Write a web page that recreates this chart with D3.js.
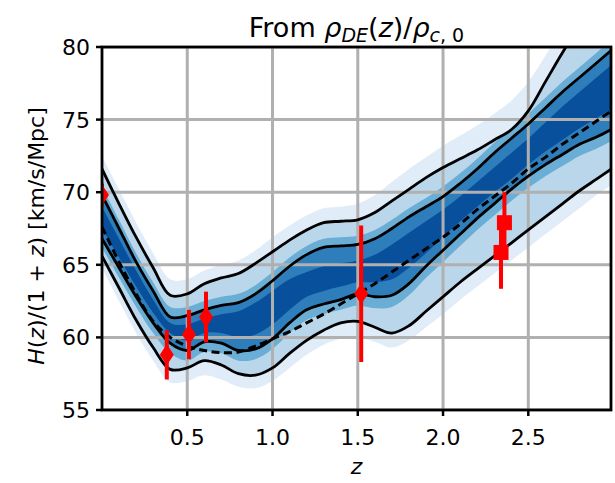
<!DOCTYPE html>
<html>
<head>
<meta charset="utf-8">
<script src="https://cdn.jsdelivr.net/npm/d3@7"></script>
<style>
  body { margin: 0; background: #fff; }
  text { font-family: "DejaVu Sans", sans-serif; fill: #000; }
</style>
</head>
<body>
<div id="chart"></div>
<script>
// redshift grid the bands are read on
const zGrid = [0, 0.1, 0.2, 0.3, 0.4, 0.5, 0.6, 0.7, 0.8, 0.9, 1.0, 1.1, 1.2, 1.3, 1.4, 1.5,
               1.6, 1.7, 1.8, 1.9, 2.0, 2.1, 2.2, 2.3, 2.4, 2.5, 2.6, 2.7, 2.8, 2.9, 3.0];

// filled density bands (outer to inner)
const outerHi = [72.5, 70.2, 67.9, 65.8, 64.0, 64.0, 64.6, 65.0, 65.3, 66.0, 66.9, 67.7, 68.4, 68.9, 69.0, 69.2,
                 69.8, 70.7, 71.6, 72.4, 73.2, 73.9, 74.6, 75.4, 76.3, 77.6, 79.4, 81.2, 83.0, 84.6, 86.0];
const outerLo = [64.8, 62.5, 60.3, 58.4, 56.9, 57.0, 57.4, 57.1, 56.6, 56.5, 57.0, 57.9, 58.8, 59.5, 59.9, 60.0,
                 59.7, 59.3, 59.8, 60.7, 61.6, 62.6, 63.5, 64.4, 65.3, 66.2, 67.1, 68.0, 68.9, 69.8, 70.6];
const midHi = [70.4, 68.1, 65.8, 63.8, 62.1, 62.1, 62.5, 62.8, 63.0, 63.6, 64.5, 65.5, 66.3, 66.8, 66.9, 67.0,
               67.4, 68.1, 68.9, 69.6, 70.4, 71.3, 72.3, 73.4, 74.4, 75.4, 76.5, 77.6, 78.6, 79.6, 80.6];
const midLo = [66.2, 64.1, 62.1, 60.3, 58.9, 58.4, 59.0, 58.9, 58.4, 58.5, 59.2, 60.3, 61.2, 61.6, 61.9, 62.2,
               62.0, 62.1, 62.9, 64.1, 65.2, 66.3, 67.4, 68.4, 69.4, 70.3, 71.1, 71.8, 72.5, 73.0, 73.6];
const coreHi = [69.0, 66.8, 64.6, 62.6, 61.0, 60.9, 61.3, 61.6, 61.8, 62.4, 63.2, 64.0, 64.5, 64.9, 65.1, 65.3,
                65.7, 66.4, 67.2, 68.0, 68.8, 69.7, 70.7, 71.7, 72.7, 73.7, 74.8, 75.9, 76.9, 77.9, 78.9];
const coreLo = [67.5, 65.5, 63.5, 61.7, 60.3, 59.8, 60.3, 60.3, 60.0, 60.2, 60.9, 61.9, 62.8, 63.2, 63.5, 63.8,
                63.8, 64.0, 64.8, 65.8, 66.9, 68.0, 69.0, 70.0, 70.9, 71.9, 72.8, 73.6, 74.4, 75.1, 75.8];

// black contour lines
const hi95 = [71.6, 69.2, 66.9, 64.8, 62.9, 63.0, 63.7, 64.1, 64.4, 65.1, 65.9, 66.7, 67.4, 67.9, 68.0, 68.1,
              68.6, 69.4, 70.2, 71.0, 71.7, 72.3, 72.9, 73.6, 74.3, 75.6, 77.6, 79.6, 81.5, 83.3, 85.0];
const hi68 = [69.8, 67.5, 65.2, 63.2, 61.4, 61.5, 61.9, 62.2, 62.4, 63.0, 63.9, 64.9, 65.7, 66.2, 66.3, 66.4,
              66.8, 67.5, 68.3, 69.0, 69.7, 70.6, 71.6, 72.7, 73.7, 74.7, 75.8, 76.9, 77.9, 78.9, 79.9];
const lo68 = [66.8, 64.8, 62.8, 61.0, 59.6, 59.1, 59.7, 59.6, 59.1, 59.2, 59.9, 61.0, 61.9, 62.3, 62.6, 63.0,
              62.8, 62.9, 63.7, 64.9, 66.0, 67.1, 68.2, 69.2, 70.2, 71.1, 71.9, 72.6, 73.3, 73.8, 74.4];
const lo95 = [65.6, 63.4, 61.2, 59.3, 57.8, 57.9, 58.4, 58.1, 57.5, 57.4, 57.9, 58.9, 59.8, 60.5, 61.0, 61.1,
              60.7, 60.3, 60.8, 61.8, 62.8, 63.8, 64.7, 65.6, 66.5, 67.4, 68.3, 69.2, 70.1, 70.9, 71.7];

// dashed reference model
const lcdm = [67.6, 65.2, 63.0, 61.1, 60.0, 59.4, 59.1, 58.95, 59.0, 59.4, 59.9, 60.4, 61.0, 61.6, 62.3, 63.0,
              63.7, 64.5, 65.3, 66.1, 66.9, 67.8, 68.8, 69.7, 70.6, 71.6, 72.4, 73.3, 74.1, 74.9, 75.7];

// measurements
const diamondZ = [0.0, 0.38, 0.51, 0.61, 1.52];
const diamondH = [69.8, 58.8, 60.2, 61.4, 63.0];
const diamondErr = [0.8, 1.7, 1.7, 1.75, 4.7];
const squareZ = [2.36, 2.34];
const squareH = [67.9, 65.85];
const squareErr = [2.1, 2.5];

const xTicks = [0.5, 1.0, 1.5, 2.0, 2.5];
const yTicks = [55, 60, 65, 70, 75, 80];

const bandColors = ["#e0ecf8", "#bad6eb", "#6aaed6", "#2e7ebc", "#08509b"];

const width = 615, height = 483;
const plot = { left: 102, right: 611, top: 47, bottom: 410 };

const svg = d3.select("#chart").append("svg")
    .attr("width", width)
    .attr("height", height);

const x = d3.scaleLinear().domain([0, 2.985]).range([plot.left, plot.right]);
const y = d3.scaleLinear().domain([55, 80]).range([plot.bottom, plot.top]);

svg.append("clipPath").attr("id", "clip")
    .append("rect")
    .attr("x", plot.left).attr("y", plot.top)
    .attr("width", plot.right - plot.left).attr("height", plot.bottom - plot.top);

const g = svg.append("g").attr("clip-path", "url(#clip)");

const curve = d3.curveCatmullRom.alpha(0.5);

function band(lo, hi) {
    return d3.area()
        .x((d, i) => x(zGrid[i]))
        .y0((d, i) => y(lo[i]))
        .y1((d, i) => y(hi[i]))
        .curve(curve)(zGrid);
}

function line(vals) {
    return d3.line()
        .x((d, i) => x(zGrid[i]))
        .y((d, i) => y(vals[i]))
        .curve(curve)(zGrid);
}

// fills
const bands = [[outerLo, outerHi], [lo95, hi95], [midLo, midHi], [lo68, hi68], [coreLo, coreHi]];
bands.forEach((b, i) => {
    g.append("path").attr("d", band(b[0], b[1])).attr("fill", bandColors[i]);
});

// grid (above fills, below lines)
const grid = g.append("g").attr("stroke", "#b0b0b0").attr("stroke-width", 3);
xTicks.forEach(t => {
    grid.append("line").attr("x1", x(t)).attr("x2", x(t)).attr("y1", plot.top).attr("y2", plot.bottom);
});
yTicks.forEach(t => {
    grid.append("line").attr("x1", plot.left).attr("x2", plot.right).attr("y1", y(t)).attr("y2", y(t));
});

// contour lines
[hi95, hi68, lo68, lo95].forEach(vals => {
    g.append("path").attr("d", line(vals))
        .attr("fill", "none").attr("stroke", "#000").attr("stroke-width", 2.8);
});
g.append("path").attr("d", line(lcdm))
    .attr("fill", "none").attr("stroke", "#000").attr("stroke-width", 3)
    .attr("stroke-dasharray", "8,4.5");

// error bars
const pts = g.append("g");
diamondZ.forEach((z, i) => {
    pts.append("line")
        .attr("x1", x(z)).attr("x2", x(z))
        .attr("y1", y(diamondH[i] - diamondErr[i])).attr("y2", y(diamondH[i] + diamondErr[i]))
        .attr("stroke", "#ff0000").attr("stroke-width", 4);
});
squareZ.forEach((z, i) => {
    pts.append("line")
        .attr("x1", x(z)).attr("x2", x(z))
        .attr("y1", y(squareH[i] - squareErr[i])).attr("y2", y(squareH[i] + squareErr[i]))
        .attr("stroke", "#ff0000").attr("stroke-width", 4);
});
diamondZ.forEach((z, i) => {
    const cx = x(z), cy = y(diamondH[i]);
    pts.append("path")
        .attr("d", `M${cx},${cy - 10.5}L${cx + 7},${cy}L${cx},${cy + 10.5}L${cx - 7},${cy}Z`)
        .attr("fill", "#ff0000");
});
squareZ.forEach((z, i) => {
    pts.append("rect")
        .attr("x", x(z) - 7.5).attr("y", y(squareH[i]) - 7.5)
        .attr("width", 15).attr("height", 15)
        .attr("fill", "#ff0000");
});

// axes frame
svg.append("rect")
    .attr("x", plot.left).attr("y", plot.top)
    .attr("width", plot.right - plot.left).attr("height", plot.bottom - plot.top)
    .attr("fill", "none").attr("stroke", "#000").attr("stroke-width", 2.8);

// ticks
xTicks.forEach(t => {
    svg.append("line").attr("x1", x(t)).attr("x2", x(t))
        .attr("y1", plot.bottom).attr("y2", plot.bottom + 6)
        .attr("stroke", "#000").attr("stroke-width", 2.5);
    svg.append("text").attr("x", x(t)).attr("y", 445)
        .attr("text-anchor", "middle").attr("font-size", 22)
        .text(d3.format(".1f")(t));
});
yTicks.forEach(t => {
    svg.append("line").attr("x1", plot.left - 6).attr("x2", plot.left)
        .attr("y1", y(t)).attr("y2", y(t))
        .attr("stroke", "#000").attr("stroke-width", 2.5);
    svg.append("text").attr("x", plot.left - 12).attr("y", y(t))
        .attr("dy", "0.36em")
        .attr("text-anchor", "end").attr("font-size", 22)
        .text(t);
});

// x label
svg.append("text").attr("x", (plot.left + plot.right) / 2).attr("y", 474)
    .attr("text-anchor", "middle").attr("font-size", 22)
    .attr("font-style", "italic").text("z");

// y label
const yl = svg.append("text")
    .attr("transform", "translate(44,236) rotate(-90)")
    .attr("text-anchor", "middle").attr("font-size", 22);
yl.append("tspan").attr("font-style", "italic").text("H");
yl.append("tspan").text("(");
yl.append("tspan").attr("font-style", "italic").text("z");
yl.append("tspan").text(")/(1 + ");
yl.append("tspan").attr("font-style", "italic").text("z");
yl.append("tspan").text(") [km/s/Mpc]");

// title
const title = svg.append("text")
    .attr("x", (plot.left + plot.right) / 2).attr("y", 37)
    .attr("text-anchor", "middle").attr("font-size", 27);
title.append("tspan").text("From ");
title.append("tspan").attr("font-style", "italic").text("ρ");
title.append("tspan").attr("font-style", "italic").attr("font-size", 19).attr("dy", 5).text("DE");
title.append("tspan").attr("dy", -5).text("(");
title.append("tspan").attr("font-style", "italic").text("z");
title.append("tspan").text(")/");
title.append("tspan").attr("font-style", "italic").text("ρ");
title.append("tspan").attr("font-style", "italic").attr("font-size", 19).attr("dy", 5).text("c");
title.append("tspan").attr("font-size", 19).text(", 0");
</script>
</body>
</html>
